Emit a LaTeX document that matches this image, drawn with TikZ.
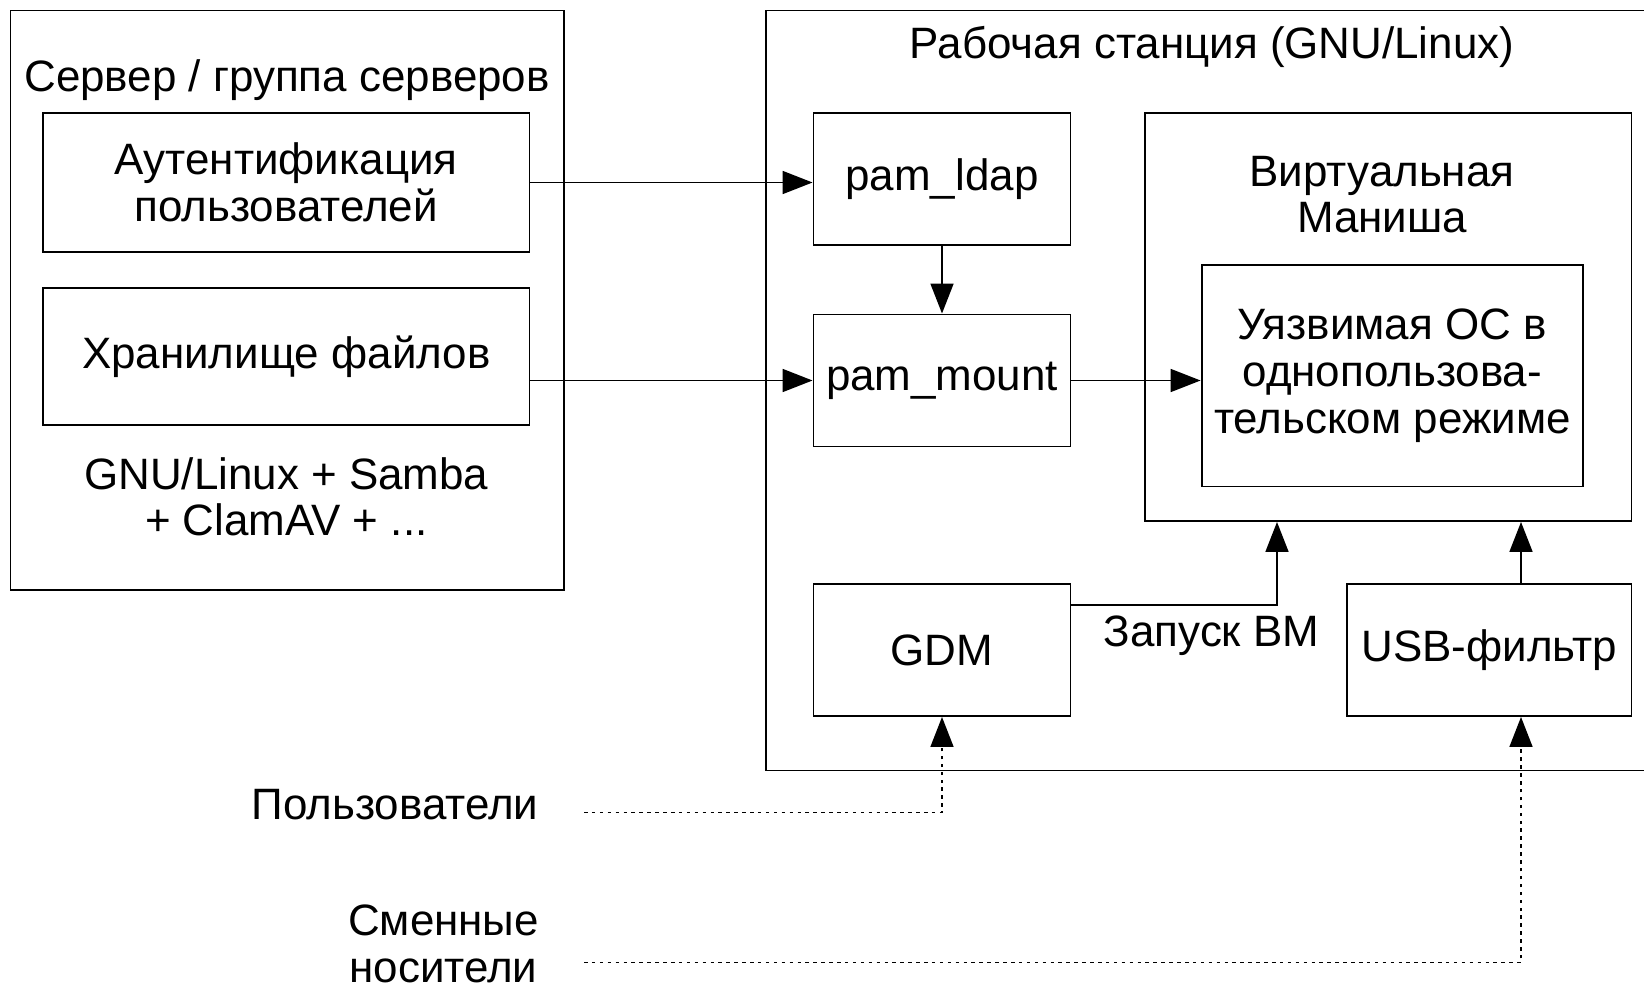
\documentclass[tikz,border=0pt]{standalone}
\usepackage{fontspec}
\setmainfont{Liberation Sans}
\usetikzlibrary{arrows.meta,positioning}

\begin{document}
\begin{tikzpicture}[font=\fontsize{25}{26.5}\selectfont, line width=1.1pt]
\tikzset{block/.style={draw, align=center, inner sep=0pt},
         plain/.style={align=center, inner sep=0pt},
         arr/.style={-{Triangle[length=17pt,width=13pt]}},
         dots/.style={dash pattern=on 2pt off 2.5pt, line width=1pt}}
\useasboundingbox (0,0) rectangle (32.88,-19.78);

% server side
\node(server) [block, minimum width=11.07cm, minimum height=11.59cm] at (5.745,-6.005) {};
\node(servertitle) [plain] at (5.74,-1.6) {Сервер / группа серверов};
\node(auth) [block, minimum width=9.73cm, minimum height=2.78cm] at (5.725,-3.65)
  {Аутентификация\\пользователей};
\node(storage) [block, below of=auth, node distance=3.48cm,
                minimum width=9.73cm, minimum height=2.74cm]
  {Хранилище файлов};
\node(serversoft) [plain, below of=storage, node distance=2.81cm]
  {GNU/Linux + Samba\\+ ClamAV + ...};

% workstation
\node(station) [block, minimum width=18.68cm, minimum height=15.2cm] at (24.66,-7.81) {};
\node(stationtitle) [plain] at (24.24,-0.94) {Рабочая станция (GNU/Linux)};
\node(ldap) [block, minimum width=5.14cm, minimum height=2.64cm] at (18.84,-3.58)
  {pam\_ldap};
\node(mount) [block, below of=ldap, node distance=4.03cm,
              minimum width=5.14cm, minimum height=2.64cm]
  {pam\_mount};
\node(gdm) [block, below of=mount, node distance=5.39cm,
            minimum width=5.14cm, minimum height=2.64cm]
  {GDM};
\node(vm) [block, minimum width=9.73cm, minimum height=8.16cm] at (27.765,-6.34) {};
\node(vmtitle) [plain] at (27.64,-3.89) {Виртуальная\\Маниша};
\node(guestos) [block, minimum width=7.63cm, minimum height=4.43cm] at (27.846,-7.515)
  {Уязвимая ОС в\\однопользова-\\тельском режиме};
\node(usb) [block, minimum width=5.69cm, minimum height=2.64cm] at (29.785,-13.0)
  {USB-фильтр};
\node(launch) [plain] at (24.23,-12.72) {Запуск ВМ};

% outside
\node(users) [plain] at (7.9,-16.1) {Пользователи};
\node(media) [plain] at (8.87,-18.88) {Сменные\\носители};

\coordinate (vmstart) at (25.54,-12.1);
\coordinate (usbtap) at (30.42,-13.0);
\coordinate (usersend) at (11.68,-16.25);
\coordinate (mediaend) at (11.68,-19.25);

\draw[arr] (auth.east) -- (auth.east -| ldap.west);
\draw[arr] (storage.east |- mount.west) -- (mount.west);
\draw[arr] (ldap.south) -- (mount.north);
\draw[arr] (mount.east) -- (mount.east -| guestos.west);
\draw[arr] (gdm.east |- vmstart) -- (vmstart) -- (vmstart |- vm.south);
\draw[arr] (usbtap |- usb.north) -- (usbtap |- vm.south);
\draw[dots, arr] (usersend) -| (gdm.south);
\draw[dots, arr] (mediaend) -| (usbtap |- usb.south);
\end{tikzpicture}
\end{document}
